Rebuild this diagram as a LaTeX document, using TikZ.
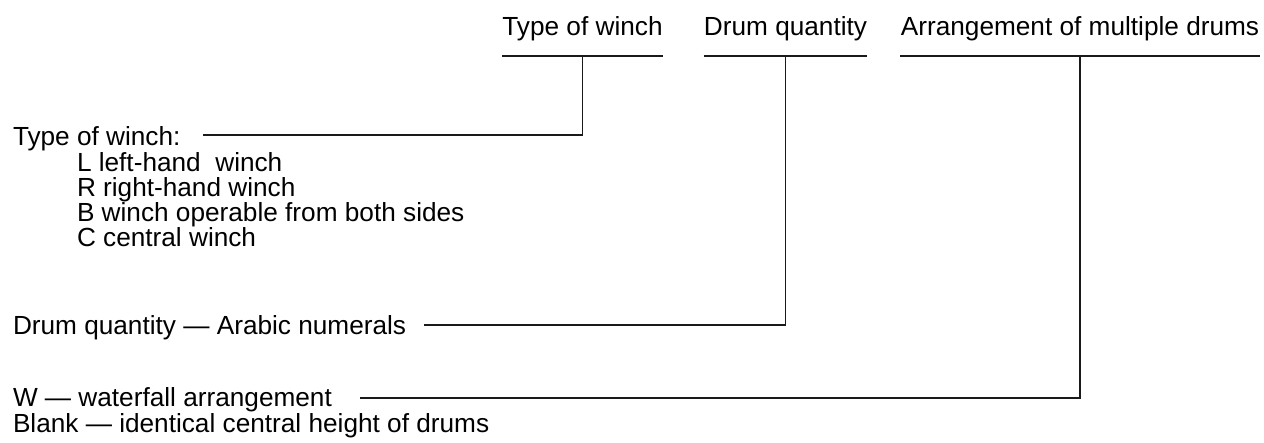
\documentclass[tikz,border=0pt]{standalone}
\usepackage{fontspec}
\setmainfont{Liberation Sans}
\definecolor{c1a1a1a}{RGB}{26,26,26}

\begin{document}
\begin{tikzpicture}[y=1pt, x=1pt, yscale=-1, inner sep=0pt, outer sep=0pt,
  every node/.style={font=\fontsize{26.2}{26}\selectfont},
  head/.style={anchor=base, text depth=0pt},
  entry/.style={anchor=base west}]
  \useasboundingbox (0,0) rectangle (1264,442);

  % headings with their rules
  \path[fill=black] (582.5,35) node[head,minimum width=159] (textwinch) {Type of winch};
  \path[fill=black] (785.5,35) node[head,minimum width=161] (textquantity) {Drum quantity};
  \path[fill=black] (1080,35) node[head,minimum width=360] (textarrange) {Arrangement of multiple drums};
  \path[draw=c1a1a1a,line join=miter,line cap=butt,line width=1.1pt]
    ([yshift=21pt]textwinch.base west) -- ([yshift=21pt]textwinch.base east)
    ([yshift=21pt]textquantity.base west) -- ([yshift=21pt]textquantity.base east)
    ([yshift=21pt]textarrange.base west) -- ([yshift=21pt]textarrange.base east);
  \coordinate (footwinch) at ([yshift=21pt]textwinch.base);
  \coordinate (footquantity) at ([yshift=21pt]textquantity.base);
  \coordinate (footarrange) at ([yshift=21pt]textarrange.base);

  % explanations
  \path[fill=black] (13,145) node[entry] (texttype) {Type of winch:};
  \path[fill=black] (77,171) node[entry] (textleft) {L left-hand\ \ winch};
  \path[fill=black] (77,196) node[entry] (textright) {R right-hand winch};
  \path[fill=black] (77,221) node[entry] (textboth) {B winch operable from both sides};
  \path[fill=black] (77,246) node[entry] (textcentral) {C central winch};
  \path[fill=black] (13,334) node[entry] (textnumerals) {Drum quantity — Arabic numerals};
  \path[fill=black] (13,406) node[entry] (textwaterfall) {W — waterfall arrangement};
  \path[fill=black] (13,432) node[entry] (textblank) {Blank — identical central height of drums};
  \coordinate (starttype) at (203,135);
  \coordinate (startnumerals) at (424,325);
  \coordinate (startwaterfall) at (360,398);

  % leaders
  \path[draw=c1a1a1a,line join=miter,line cap=butt,line width=1.1pt]
    (footwinch) |- (starttype)
    (footquantity) |- (startnumerals)
    (footarrange) |- (startwaterfall);

\end{tikzpicture}
\end{document}
